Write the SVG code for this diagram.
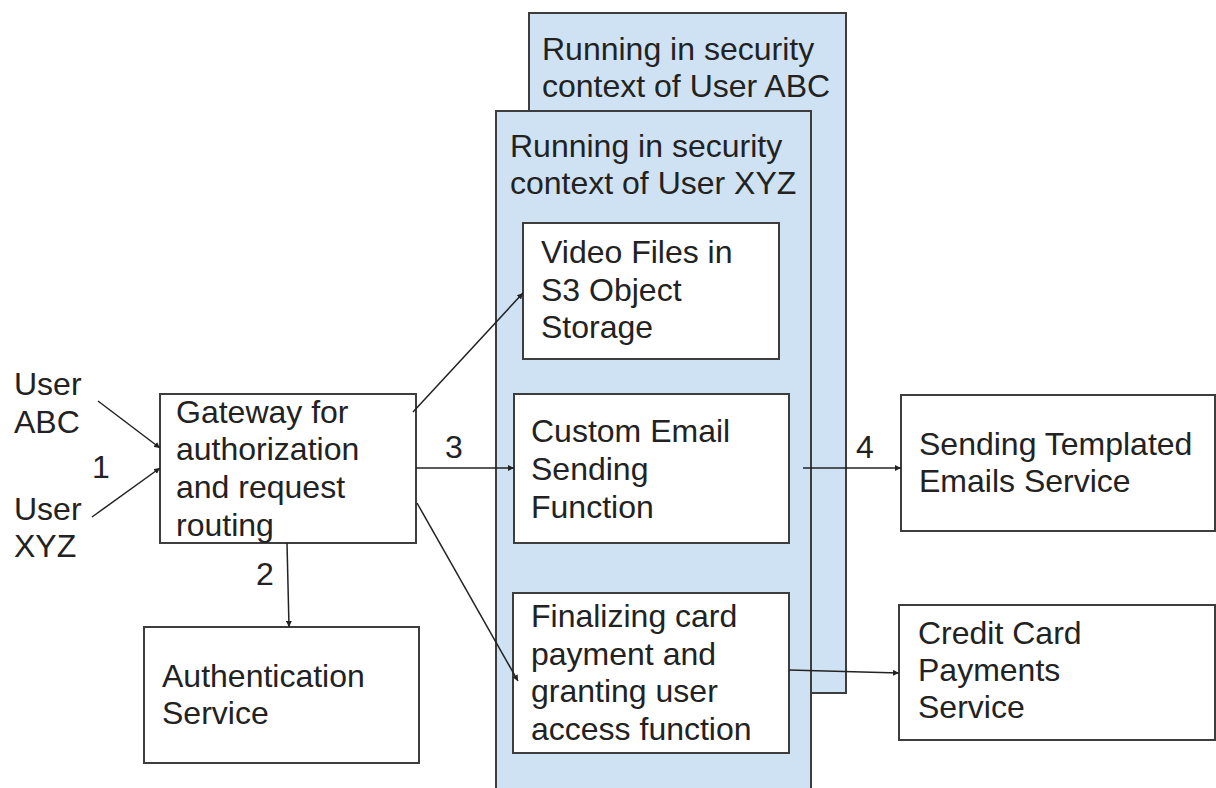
<svg xmlns="http://www.w3.org/2000/svg" width="1216" height="788" viewBox="0 0 1216 788">
<style>
.panel{fill:#cfe2f3;stroke:#3d3d3d;stroke-width:2}
.box{fill:#ffffff;stroke:#3d3d3d;stroke-width:2}
.t{font-family:"Liberation Sans",Arial,sans-serif;font-size:32px;fill:#222222}
.c{fill:none;stroke:#222222;stroke-width:1.5}
</style>
<defs>
<marker id="ah" viewBox="0 0 10 10" refX="10" refY="5" markerWidth="6" markerHeight="6" markerUnits="userSpaceOnUse" orient="auto">
<path d="M0,0 L10,5 L0,10 z" fill="#222222"/>
</marker>
</defs>
<rect width="1216" height="788" fill="#ffffff"/>
<g id="panel-abc">
<rect class="panel" x="529" y="13" width="317" height="680"/>
<text class="t" x="542" y="60">Running in security</text>
<text class="t" x="542" y="97">context of User ABC</text>
</g>
<g id="panel-xyz">
<rect class="panel" x="496" y="111" width="315" height="700"/>
<text class="t" x="510" y="157">Running in security</text>
<text class="t" x="510" y="194">context of User XYZ</text>
</g>
<g id="user-abc">
<text class="t" x="14" y="395">User</text>
<text class="t" x="14" y="433">ABC</text>
</g>
<g id="user-xyz">
<text class="t" x="14" y="520">User</text>
<text class="t" x="14" y="557">XYZ</text>
</g>
<g id="gateway">
<rect class="box" x="160" y="394" width="256" height="149"/>
<text class="t" x="176" y="423">Gateway for</text>
<text class="t" x="176" y="460">authorization</text>
<text class="t" x="176" y="498">and request</text>
<text class="t" x="176" y="536">routing</text>
</g>
<g id="auth">
<rect class="box" x="144" y="627" width="275" height="136"/>
<text class="t" x="162" y="687">Authentication</text>
<text class="t" x="162" y="724">Service</text>
</g>
<g id="video">
<rect class="box" x="523" y="223" width="256" height="136"/>
<text class="t" x="541" y="263">Video Files in</text>
<text class="t" x="541" y="301">S3 Object</text>
<text class="t" x="541" y="338">Storage</text>
</g>
<g id="email-fn">
<rect class="box" x="514" y="394" width="275" height="149"/>
<text class="t" x="531" y="442">Custom Email</text>
<text class="t" x="531" y="480">Sending</text>
<text class="t" x="531" y="518">Function</text>
</g>
<g id="finalize-fn">
<rect class="box" x="513" y="593" width="276" height="160"/>
<text class="t" x="531" y="627">Finalizing card</text>
<text class="t" x="531" y="665">payment and</text>
<text class="t" x="531" y="702">granting user</text>
<text class="t" x="531" y="740">access function</text>
</g>
<g id="email-svc">
<rect class="box" x="901" y="395" width="314" height="136"/>
<text class="t" x="919" y="455">Sending Templated</text>
<text class="t" x="919" y="492">Emails Service</text>
</g>
<g id="card-svc">
<rect class="box" x="899" y="605" width="316" height="135"/>
<text class="t" x="918" y="644">Credit Card</text>
<text class="t" x="918" y="681">Payments</text>
<text class="t" x="918" y="718">Service</text>
</g>
<g id="connectors">
<line class="c" x1="98" y1="401" x2="160" y2="448" marker-end="url(#ah)"/>
<line class="c" x1="92" y1="517" x2="160" y2="468" marker-end="url(#ah)"/>
<line class="c" x1="287" y1="543" x2="289" y2="627" marker-end="url(#ah)"/>
<line class="c" x1="413" y1="412" x2="523" y2="293" marker-end="url(#ah)"/>
<line class="c" x1="416" y1="468" x2="514" y2="468" marker-end="url(#ah)"/>
<line class="c" x1="417" y1="503" x2="518" y2="681" marker-end="url(#ah)"/>
<line class="c" x1="803" y1="468" x2="901" y2="468" marker-end="url(#ah)"/>
<line class="c" x1="789" y1="670" x2="899" y2="673" marker-end="url(#ah)"/>
<text class="t" x="92" y="478">1</text>
<text class="t" x="256" y="585">2</text>
<text class="t" x="445" y="458">3</text>
<text class="t" x="856" y="458">4</text>
</g>
</svg>
